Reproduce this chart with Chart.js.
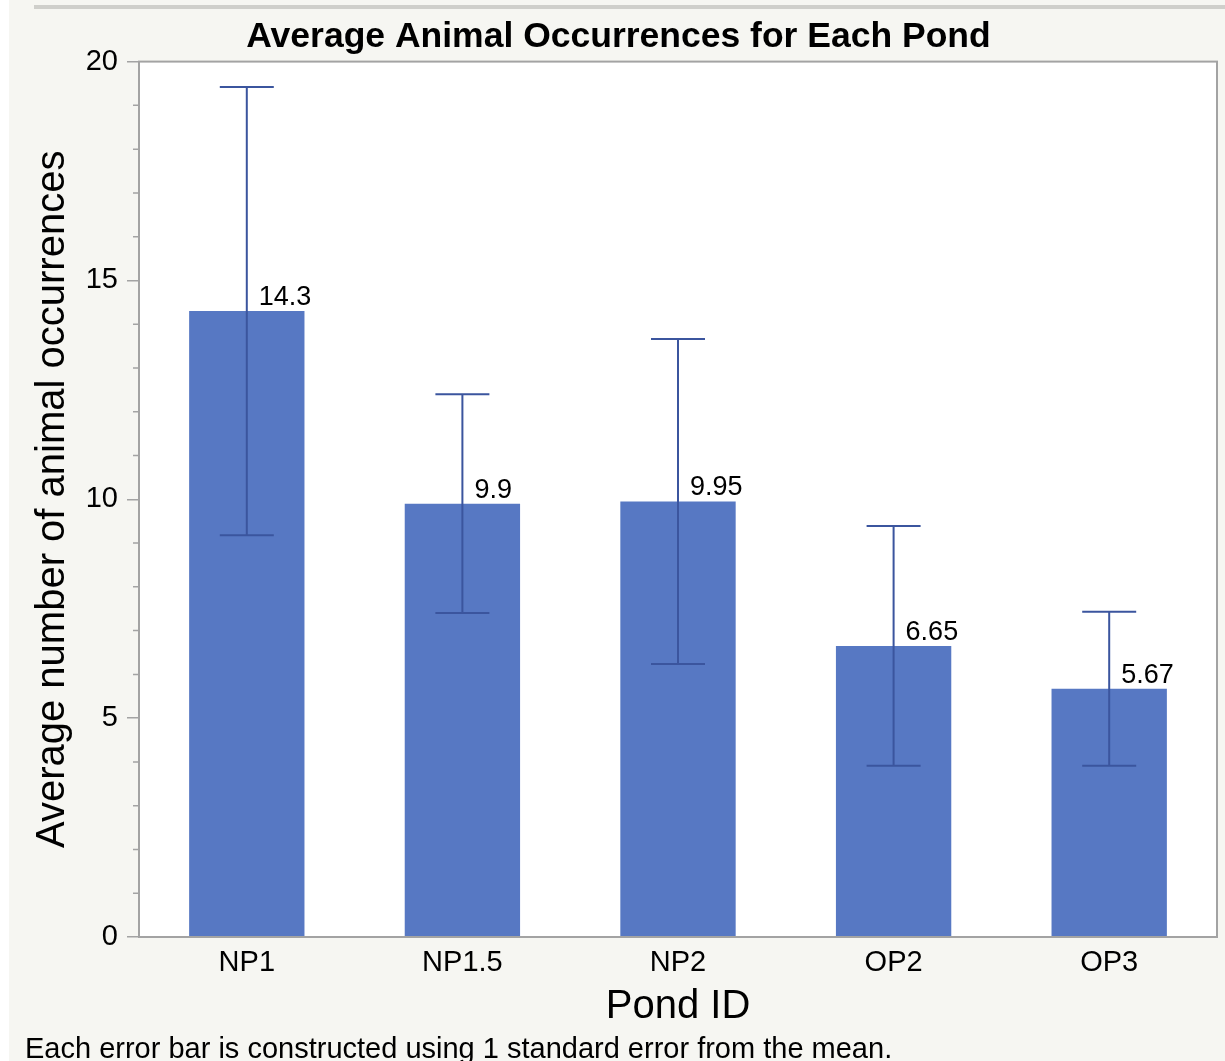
<!DOCTYPE html>
<html>
<head>
<meta charset="utf-8">
<script src="https://cdn.jsdelivr.net/npm/chart.js@4.4.1/dist/chart.umd.min.js"></script>
<style>
  html, body { margin: 0; padding: 0; background: #fff; }
  #wrap { width: 1225px; height: 1061px; position: relative; }
</style>
</head>
<body>
<div id="wrap"><canvas id="grafico"></canvas></div>
<script>
const ponds = ['NP1', 'NP1.5', 'NP2', 'OP2', 'OP3'];
const means = [14.3, 9.9, 9.95, 6.65, 5.67];
const stdErrors = [5.12, 2.5, 3.71, 2.74, 1.76];
const yTicks = [0, 5, 10, 15, 20];

const FONT = '"Liberation Sans", Arial, Helvetica, sans-serif';
const BAR_COLOR = '#5778c3';
const ERR_COLOR = '#3b559e';
const AXIS_GRAY = '#a3a3a3';
const BG = '#f6f6f2';

const fundoPlugin = {
  id: 'fundoPlugin',
  beforeDraw(chart) {
    const { ctx, width, height, chartArea: { left, top, right, bottom } } = chart;
    ctx.save();
    ctx.fillStyle = '#ffffff';
    ctx.fillRect(0, 0, width, height);
    ctx.fillStyle = BG;
    ctx.fillRect(9, 0, width - 9, height);
    // linha cinza no topo
    ctx.fillStyle = '#cfcfcb';
    ctx.fillRect(34, 5, width - 34, 4);
    ctx.fillStyle = '#ffffff';
    ctx.fillRect(left, top, right - left, bottom - top);
    ctx.restore();
  },
  afterDatasetsDraw(chart) {
    const { ctx, chartArea: { left, top, right, bottom }, scales: { y } } = chart;
    const meta = chart.getDatasetMeta(0);
    ctx.save();

    // barras de erro + rótulos
    meta.data.forEach((bar, i) => {
      const cx = bar.x;
      const yHi = y.getPixelForValue(means[i] + stdErrors[i]);
      const yLo = y.getPixelForValue(means[i] - stdErrors[i]);
      ctx.strokeStyle = ERR_COLOR;
      ctx.lineWidth = 2;
      ctx.beginPath();
      ctx.moveTo(cx, yHi); ctx.lineTo(cx, yLo);
      ctx.moveTo(cx - 27, yHi); ctx.lineTo(cx + 27, yHi);
      ctx.moveTo(cx - 27, yLo); ctx.lineTo(cx + 27, yLo);
      ctx.stroke();

      ctx.fillStyle = '#000';
      ctx.font = '27px ' + FONT;
      ctx.textAlign = 'left';
      ctx.textBaseline = 'alphabetic';
      ctx.fillText(String(means[i]), cx + 12, bar.y - 6);
    });

    // moldura
    ctx.strokeStyle = AXIS_GRAY;
    ctx.lineWidth = 2;
    ctx.strokeRect(left, top, right - left, bottom - top);

    // ticks menores
    ctx.lineWidth = 1.5;
    ctx.beginPath();
    for (let v = y.min; v <= y.max; v++) {
      if (yTicks.includes(v)) continue;
      const py = y.getPixelForValue(v);
      ctx.moveTo(left - 6, py); ctx.lineTo(left, py);
    }
    ctx.stroke();
    ctx.restore();
  },
  afterDraw(chart) {
    const { ctx } = chart;
    ctx.save();
    ctx.fillStyle = '#000';
    ctx.font = '29px ' + FONT;
    ctx.textAlign = 'left';
    ctx.textBaseline = 'alphabetic';
    ctx.fillText('Each error bar is constructed using 1 standard error from the mean.', 25, 1058);
    ctx.restore();
  },
};

new Chart(document.getElementById('grafico').getContext('2d'), {
  type: 'bar',
  plugins: [fundoPlugin],
  data: {
    labels: ponds,
    datasets: [{
      data: means,
      backgroundColor: BAR_COLOR,
      borderWidth: 0,
      categoryPercentage: 1,
      barPercentage: 0.535,
    }],
  },
  options: {
    responsive: true,
    maintainAspectRatio: false,
    animation: false,
    layout: { padding: { left: 20, right: 8, top: 0, bottom: 0 } },
    plugins: {
      legend: { display: false },
      tooltip: { enabled: false },
      title: {
        display: true,
        text: 'Average Animal Occurrences for Each Pond',
        color: '#000',
        font: { family: FONT, size: 35.5, weight: 'bold' },
        padding: { top: 16, bottom: 3 },
      },
    },
    scales: {
      x: {
        afterFit: (s) => { s.height = 124; },
        grid: { display: false, drawTicks: false },
        border: { display: false },
        ticks: { color: '#000', font: { family: FONT, size: 29 }, padding: 9 },
        title: {
          display: true,
          text: 'Pond ID',
          color: '#000',
          font: { family: FONT, size: 40 },
          padding: { top: 0, bottom: 30 },
        },
      },
      y: {
        min: 0, max: 20,
        afterFit: (s) => { s.width = 119; },
        afterBuildTicks: (s) => { s.ticks = yTicks.map((v) => ({ value: v })); },
        grid: { drawOnChartArea: false, drawTicks: true, tickLength: 12, color: AXIS_GRAY, lineWidth: 1.5 },
        border: { display: true, color: AXIS_GRAY, width: 2 },
        ticks: { color: '#000', font: { family: FONT, size: 29 }, padding: 9 },
        title: {
          display: true,
          text: 'Average number of animal occurrences',
          color: '#000',
          font: { family: FONT, size: 40 },
          padding: { top: 9, bottom: 0 },
        },
      },
    },
  },
});
</script>
</body>
</html>
